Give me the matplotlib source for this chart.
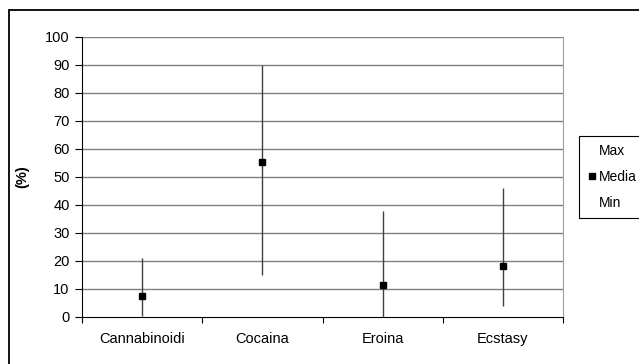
import matplotlib
matplotlib.use("Agg")
import matplotlib.pyplot as plt
from matplotlib.lines import Line2D
from matplotlib.patches import Rectangle

categories = ["Cannabinoidi", "Cocaina", "Eroina", "Ecstasy"]
max_vals = [21, 90, 38, 46]
media_vals = [7.5, 55.5, 11.5, 18.3]
min_vals = [0.5, 15, 0, 4]
y_ticks = list(range(0, 101, 10))

plt.rcParams['font.family'] = ['Liberation Sans', 'DejaVu Sans']

fig = plt.figure(figsize=(6.39, 3.64), dpi=100)
ax = fig.add_axes([82/639, 1-317/364, (563-82)/639, (317-37)/364])

# outer chart border (extends past right/bottom of the image)
fig.patches.append(Rectangle((9/639, -0.1), 1.2, 1-10/364+0.1, transform=fig.transFigure,
                             fill=False, edgecolor='black', linewidth=1.3, clip_on=False))

x = list(range(len(categories)))
ax.set_xlim(-0.5, len(categories)-0.5)
ax.set_ylim(0, 100)
ax.set_yticks(y_ticks)
for yv in y_ticks[1:]:
    ax.axhline(yv, color='#808080', linewidth=1, zorder=1)

ax.vlines(x, min_vals, max_vals, color='#404040', linewidth=1, zorder=3)
ax.plot(x, max_vals, linestyle='none', marker='none', label='Max')
ax.plot(x, media_vals, linestyle='none', marker='s', markersize=4, color='black', label='Media', zorder=4)
ax.plot(x, min_vals, linestyle='none', marker='none', label='Min')

ax.set_xticks([i - 0.5 for i in range(len(categories)+1)])
ax.set_xticklabels([])
ax.set_xticks(x, minor=True)
ax.set_xticklabels(categories, minor=True, fontsize=10.5)
ax.tick_params(axis='x', which='minor', length=0, pad=11)
ax.tick_params(axis='x', which='major', length=4, direction='out', color='black')
ax.tick_params(axis='y', length=5, direction='out', pad=4, labelsize=10.5)

ax.spines['top'].set_visible(False)
ax.spines['right'].set_color('#a0a0a0')
ax.spines['left'].set_color('black')
ax.spines['bottom'].set_color('black')

fig.text(22/639, 1-177/364, '(%)', rotation=90, fontsize=10.5, fontweight='bold',
         ha='center', va='center')

handles = [Line2D([], [], linestyle='none', marker='none'),
           Line2D([], [], linestyle='none', marker='s', markersize=4, color='black'),
           Line2D([], [], linestyle='none', marker='none')]
leg = fig.legend(handles, ['Max', 'Media', 'Min'], loc='upper left',
                 bbox_to_anchor=(579/639, 1-136/364), fontsize=10,
                 fancybox=False, framealpha=1, edgecolor='black',
                 handlelength=0.6, handletextpad=0.25, borderpad=0.6,
                 labelspacing=0.85, borderaxespad=0)
leg.get_frame().set_linewidth(0.8)

fig.savefig('out.png', dpi=100)
